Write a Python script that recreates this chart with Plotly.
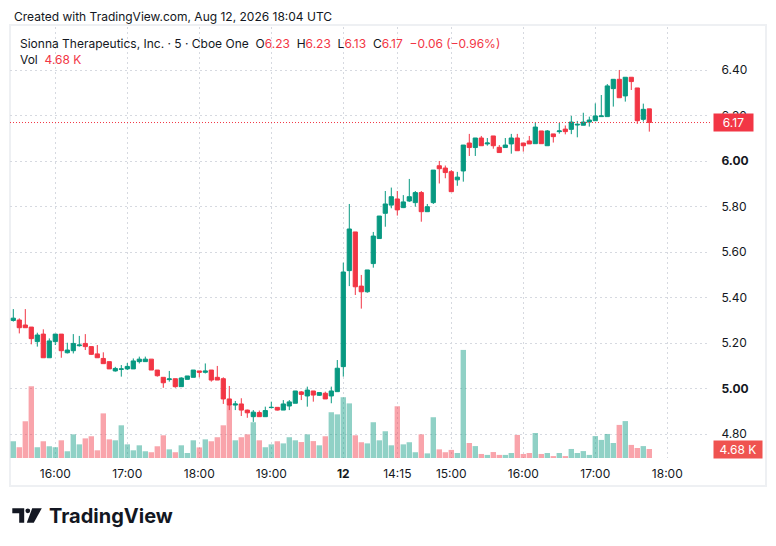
import plotly.graph_objects as go

# ---------------- data ----------------
opens = [5.300, 5.302, 5.280, 5.271, 5.207, 5.240, 5.136, 5.207, 5.240, 5.158,
         5.167, 5.189, 5.199, 5.185, 5.153, 5.133, 5.119, 5.078, 5.085, 5.087,
         5.087, 5.119, 5.119, 5.130, 5.082, 5.050, 5.040, 5.044, 5.009, 5.041,
         5.050, 5.078, 5.072, 5.082, 5.050, 5.044, 4.955, 4.928, 4.933, 4.906,
         4.877, 4.895, 4.877, 4.917, 4.918, 4.906, 4.924, 4.936, 4.986, 4.968,
         4.990, 4.971, 4.980, 4.968, 4.987, 5.097, 5.519, 5.689, 5.451, 5.426,
         5.550, 5.660, 5.771, 5.807, 5.834, 5.796, 5.825, 5.818, 5.862, 5.778,
         5.818, 5.980, 5.970, 5.954, 5.918, 5.957, 6.080, 6.060, 6.102, 6.076,
         6.111, 6.061, 6.060, 6.076, 6.102, 6.080, 6.089, 6.077, 6.133, 6.068,
         6.120, 6.130, 6.141, 6.140, 6.159, 6.158, 6.172, 6.178, 6.196, 6.196,
         6.319, 6.360, 6.287, 6.369, 6.322, 6.184, 6.230]
highs = [5.350, 5.309, 5.350, 5.271, 5.246, 5.261, 5.221, 5.240, 5.240, 5.202,
         5.240, 5.232, 5.240, 5.185, 5.192, 5.160, 5.119, 5.096, 5.104, 5.113,
         5.133, 5.141, 5.141, 5.130, 5.082, 5.050, 5.078, 5.044, 5.050, 5.056,
         5.082, 5.078, 5.111, 5.082, 5.100, 5.050, 5.012, 4.946, 4.958, 4.908,
         4.906, 4.904, 4.921, 4.943, 4.918, 4.950, 4.950, 4.990, 4.990, 5.009,
         4.990, 4.983, 4.987, 5.009, 5.126, 5.554, 5.812, 5.689, 5.500, 5.522,
         5.689, 5.759, 5.869, 5.884, 5.869, 5.851, 5.922, 5.869, 5.869, 5.812,
         5.961, 6.001, 5.981, 5.961, 5.953, 6.071, 6.120, 6.102, 6.111, 6.102,
         6.111, 6.071, 6.102, 6.120, 6.120, 6.080, 6.111, 6.171, 6.133, 6.137,
         6.120, 6.168, 6.157, 6.199, 6.177, 6.213, 6.196, 6.254, 6.291, 6.339,
         6.360, 6.401, 6.369, 6.369, 6.322, 6.253, 6.230]
lows = [5.295, 5.243, 5.268, 5.195, 5.185, 5.136, 5.136, 5.192, 5.136, 5.155,
        5.155, 5.185, 5.170, 5.148, 5.136, 5.110, 5.087, 5.075, 5.053, 5.082,
        5.087, 5.111, 5.119, 5.082, 5.053, 5.004, 5.031, 5.004, 5.009, 5.041,
        5.050, 5.050, 5.067, 5.031, 5.038, 4.933, 4.906, 4.906, 4.880, 4.872,
        4.854, 4.877, 4.877, 4.914, 4.904, 4.906, 4.906, 4.936, 4.950, 4.921,
        4.943, 4.968, 4.955, 4.936, 4.987, 5.053, 5.451, 5.412, 5.352, 5.422,
        5.532, 5.660, 5.712, 5.793, 5.761, 5.794, 5.821, 5.800, 5.734, 5.778,
        5.812, 5.902, 5.925, 5.866, 5.892, 5.910, 6.023, 6.023, 6.068, 6.068,
        6.055, 6.038, 6.060, 6.033, 6.046, 6.042, 6.076, 6.077, 6.077, 6.068,
        6.082, 6.121, 6.118, 6.119, 6.105, 6.158, 6.152, 6.178, 6.196, 6.196,
        6.240, 6.279, 6.262, 6.313, 6.164, 6.174, 6.130]
closes = [5.310, 5.268, 5.268, 5.220, 5.236, 5.136, 5.210, 5.240, 5.167, 5.170,
          5.199, 5.192, 5.185, 5.151, 5.136, 5.110, 5.087, 5.089, 5.087, 5.098,
          5.122, 5.130, 5.130, 5.082, 5.057, 5.026, 5.043, 5.009, 5.047, 5.056,
          5.082, 5.072, 5.078, 5.038, 5.038, 4.955, 4.928, 4.933, 4.906, 4.894,
          4.897, 4.877, 4.904, 4.918, 4.906, 4.933, 4.942, 4.990, 4.975, 4.994,
          4.972, 4.983, 4.955, 4.990, 5.090, 5.513, 5.702, 5.448, 5.426, 5.522,
          5.671, 5.759, 5.812, 5.844, 5.786, 5.821, 5.844, 5.862, 5.778, 5.800,
          5.961, 5.967, 5.950, 5.866, 5.930, 6.071, 6.060, 6.102, 6.068, 6.080,
          6.068, 6.038, 6.071, 6.102, 6.046, 6.068, 6.076, 6.150, 6.077, 6.133,
          6.108, 6.133, 6.130, 6.172, 6.162, 6.172, 6.181, 6.199, 6.199, 6.331,
          6.360, 6.279, 6.369, 6.350, 6.178, 6.228, 6.170]
volumes = [8700, 5600, 19100, 37300, 5600, 8700, 6100, 5600, 9200, 3500,
           12300, 7100, 10200, 11300, 4000, 23200, 9700, 9200, 17000, 7100,
           4000, 6600, 3500, 3000, 6100, 11800, 4500, 3000, 6600, 2600,
           9200, 5500, 9700, 8700, 10800, 17000, 27400, 9200, 10800, 12300,
           18600, 9200, 5600, 7100, 8700, 7600, 10800, 9200, 8300, 12300,
           8800, 6600, 11300, 23800, 22700, 31600, 28400, 11800, 8200, 7600,
           18600, 9200, 13900, 6600, 26900, 7100, 8200, 3000, 12300, 2400,
           21200, 4500, 3000, 4200, 2600, 56200, 7800, 6200, 2100, 1600,
           3100, 1600, 1600, 2600, 12000, 2100, 2600, 13000, 2100, 2600,
           1000, 2600, 1000, 4700, 2600, 3600, 1600, 11400, 9400, 12500,
           7800, 17200, 19200, 6800, 5200, 6200, 4680]

tick_idx = [7, 19, 31, 43, 55, 64, 73, 85, 97, 109]
tick_labels = ["16:00", "17:00", "18:00", "19:00", "<b>12</b>", "14:15",
               "15:00", "16:00", "17:00", "18:00"]
price_ticks = [4.80, 5.00, 5.20, 5.40, 5.60, 5.80, 6.00, 6.20, 6.40]
price_labels = ["4.80", "<b>5.00</b>", "5.20", "5.40", "5.60", "5.80",
                "<b>6.00</b>", "6.20", "6.40"]
change_text = "−0.06 (−0.96%)"

# ---------------- styling ----------------
UP = "#089981"
DN = "#F23645"
UP_V = "rgba(8,153,129,0.45)"
DN_V = "rgba(242,54,69,0.45)"
TXT = "#131722"
FONT = "Inter"

# the page body adds an 8px margin, so the figure is 8px smaller and
# every reference pixel coordinate is shifted by OFF
OFF = 8
W, H = 776 - OFF, 546 - OFF
RL, RR, RT, RB = 10, 710, 27, 458          # plot area in reference pixels
PL, PR, PT, PB = RL - OFF, RR - OFF, RT - OFF, RB - OFF


def px(x):
    return (x - RL) / (RR - RL)


def py(y):
    return (RB - y) / (RB - RT)


idx = list(range(len(opens)))
vcolors = [UP_V if c >= o else DN_V for o, c in zip(opens, closes)]

fig = go.Figure()
fig.add_trace(go.Bar(x=idx, y=volumes, marker_color=vcolors, marker_line_width=0,
                     yaxis="y2", hoverinfo="skip", showlegend=False))
fig.add_trace(go.Candlestick(
    x=idx, open=opens, high=highs, low=lows, close=closes,
    increasing=dict(line=dict(color=UP, width=1), fillcolor=UP),
    decreasing=dict(line=dict(color=DN, width=1), fillcolor=DN),
    whiskerwidth=0, showlegend=False))

# pixel scale -> axis ranges
ppu = 227.5  # px per price unit
p_top = 5.80 + (206.7 - RT) / ppu
p_bot = 5.80 - (RB - 206.7) / ppu
vol_per_px = 520.0
x_lo = (RL - 13.3) / 6.0
x_hi = (RR - 13.3) / 6.0

grid = dict(showgrid=True, gridcolor="#d6d9e0", griddash="2px,3px", gridwidth=1)

fig.update_layout(
    width=W, height=H,
    margin=dict(l=PL, r=W - PR, t=PT, b=H - PB, pad=0),
    paper_bgcolor="white", plot_bgcolor="white",
    font=dict(family=FONT, size=12, color=TXT),
    boxgap=0.3, boxgroupgap=0.0, bargap=0.1,
    xaxis=dict(range=[x_lo, x_hi], tickvals=tick_idx, ticktext=tick_labels,
               rangeslider=dict(visible=False), zeroline=False,
               ticks="outside", ticklen=5, tickcolor="rgba(0,0,0,0)",
               tickfont=dict(size=12, color=TXT), showline=False, **grid),
    yaxis=dict(range=[p_bot, p_top], side="right", tickvals=price_ticks,
               ticktext=price_labels, zeroline=False, ticks="outside",
               ticklen=8, tickcolor="rgba(0,0,0,0)",
               tickfont=dict(size=12, color=TXT), showline=False, **grid),
    yaxis2=dict(range=[0, vol_per_px * (RB - RT)], overlaying="y", visible=False,
                showgrid=False),
    hovermode=False,
)

shapes = []
# panel border
shapes.append(dict(type="rect", xref="paper", yref="paper",
                   x0=px(10), x1=px(766), y0=py(25), y1=py(486),
                   line=dict(color="#eef0f3", width=2), fillcolor="rgba(0,0,0,0)",
                   layer="below"))
# last price dotted line
shapes.append(dict(type="line", xref="paper", yref="y", x0=0, x1=1,
                   y0=closes[-1], y1=closes[-1],
                   line=dict(color=DN, width=1, dash="1px,2px")))


def poly(points):
    return "M " + " L ".join(f"{px(a):.5f},{py(b):.5f}" for a, b in points) + " Z"


# TradingView logo
shapes.append(dict(type="path", xref="paper", yref="paper",
                   path=poly([(12.3, 508.3), (24.2, 508.3), (24.2, 522.7), (19.2, 522.7),
                              (19.2, 513.3), (12.3, 513.3)]),
                   fillcolor="#131722", line=dict(width=0)))
shapes.append(dict(type="circle", xref="paper", yref="paper",
                   x0=px(25.4), x1=px(30.2), y0=py(513.2), y1=py(508.4),
                   fillcolor="#131722", line=dict(width=0)))
shapes.append(dict(type="path", xref="paper", yref="paper",
                   path=poly([(32.2, 508.3), (41.8, 508.3), (33.8, 522.7), (26.8, 522.7)]),
                   fillcolor="#131722", line=dict(width=0)))
fig.update_layout(shapes=shapes)


def red(t):
    return f"<span style='color:{DN}'>{t}</span>"


nb = "\u00a0"
header2 = ("Sionna Therapeutics, Inc. · 5 · Cboe One" + nb * 2 +
           "O" + red(f"{opens[-1]:.2f}") + nb * 2 +
           "H" + red(f"{highs[-1]:.2f}") + nb * 2 +
           "L" + red(f"{lows[-1]:.2f}") + nb * 2 +
           "C" + red(f"{closes[-1]:.2f}") + nb * 2 +
           red(change_text))
header3 = "Vol" + nb * 2 + red(f"{volumes[-1] / 1000:.2f}{nb}K")

annos = [
    dict(text="Created with TradingView.com, Aug 12, 2026 18:04 UTC",
         x=px(12), y=py(16), font=dict(size=12, color=TXT)),
    dict(text=header2, x=px(18), y=py(43), font=dict(size=12, color=TXT)),
    dict(text=header3, x=px(18), y=py(60), font=dict(size=12, color=TXT)),
    dict(text="<b>TradingView</b>", x=px(47), y=py(516),
         font=dict(size=20, color=TXT)),
]
for a in annos:
    a.update(xref="paper", yref="paper", xanchor="left", yanchor="middle",
             showarrow=False, align="left")

annos.append(dict(text=f"{closes[-1]:.2f}", xref="paper", yref="y",
                  x=px(713), y=closes[-1], xanchor="left", yanchor="middle",
                  showarrow=False, bgcolor=DN, font=dict(size=12, color="white"),
                  width=39, height=17, borderpad=0, align="center"))
annos.append(dict(text=f"{volumes[-1] / 1000:.2f}{nb}K", xref="paper", yref="y2",
                  x=px(713), y=volumes[-1], xanchor="left", yanchor="middle",
                  showarrow=False, bgcolor="#EF5350", font=dict(size=12, color="white"),
                  width=48, height=17, borderpad=0, align="center"))
fig.update_layout(annotations=annos)

fig.write_html("out.html")
